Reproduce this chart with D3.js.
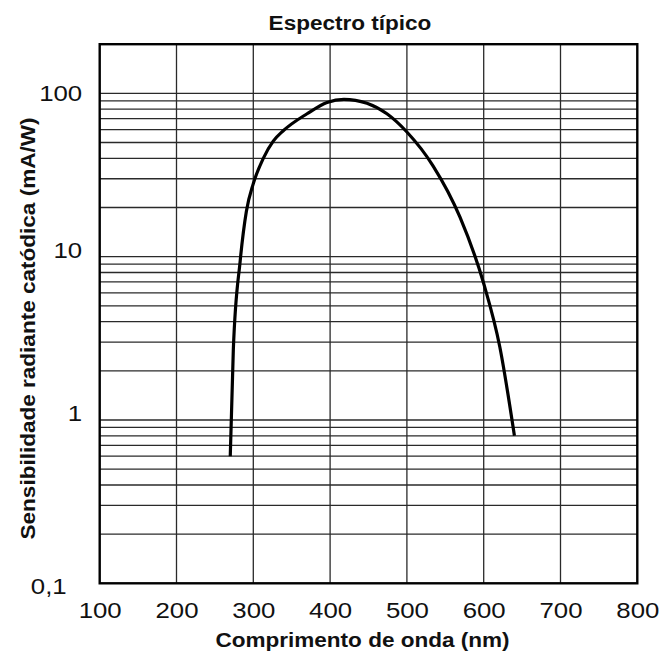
<!DOCTYPE html>
<html>
<head>
<meta charset="utf-8">
<script src="https://cdn.jsdelivr.net/npm/d3@7"></script>
<style>
  html, body { margin: 0; padding: 0; background: #fff; }
  svg { display: block; }
  text { font-family: "Liberation Sans", Arial, sans-serif; fill: #111; }
</style>
</head>
<body>
<svg id="chart" width="662" height="654"></svg>
<script>
// ---- data ----
const wavelength  = [270, 274, 283, 291, 300, 313, 326, 339, 370, 396, 418, 448, 474, 500, 534, 569, 600, 621, 640];
const sensitivity = [0.6, 2.7, 9.5, 19, 28, 40, 51, 59, 75, 88, 92, 87, 75, 58, 36, 17.5, 6.85, 2.8, 0.8];
const xTicks = [100, 200, 300, 400, 500, 600, 700, 800];
const yTicks = [0.1, 1, 10, 100];
const yTickLabels = ["0,1", "1", "10", "100"];
const chartTitle = "Espectro típico";
const xTitle = "Comprimento de onda (nm)";
const yTitle = "Sensibilidade radiante catódica (mA/W)";

// ---- layout ----
const mLeft = 99.7, mRight = 637.3, mTop = 44.2, mBottom = 583.3;

const svg = d3.select("#chart");
const x = d3.scaleLinear().domain([100, 800]).range([mLeft, mRight]);
const y = d3.scaleLog().domain([0.1, 200]).range([mBottom, mTop]);

// grid lines
const minor = [];
[0.1, 1, 10].forEach(d => { for (let k = 1; k <= 9; k++) minor.push(d * k); });
minor.push(100);
const gridY = minor.filter(v => v > 0.1);

svg.append("g").selectAll("line").data(gridY).join("line")
  .attr("x1", mLeft).attr("x2", mRight)
  .attr("y1", d => y(d)).attr("y2", d => y(d))
  .attr("stroke", "#2a2a2a").attr("stroke-width", 1.3);

svg.append("g").selectAll("line").data(xTicks.slice(1, -1)).join("line")
  .attr("x1", d => x(d)).attr("x2", d => x(d))
  .attr("y1", mTop).attr("y2", mBottom)
  .attr("stroke", "#2a2a2a").attr("stroke-width", 1.3);

// frame
svg.append("rect")
  .attr("x", mLeft).attr("y", mTop)
  .attr("width", mRight - mLeft).attr("height", mBottom - mTop)
  .attr("fill", "none").attr("stroke", "#000").attr("stroke-width", 2.4);

// axes
const xAxis = svg.append("g").attr("transform", `translate(0,${mBottom})`)
  .call(d3.axisBottom(x).tickValues(xTicks).tickSize(0).tickFormat(d3.format("d")));
xAxis.select(".domain").remove();
xAxis.selectAll("text")
  .attr("y", 0).attr("dy", 0)
  .attr("transform", "translate(0,34.7) scale(1.2,1)")
  .style("font-size", "21.5px")
  .style("font-family", "'Liberation Sans', Arial, sans-serif")
  .attr("fill", "#111");

const yAxis = svg.append("g").attr("transform", `translate(${mLeft},0)`)
  .call(d3.axisLeft(y).tickValues(yTicks).tickSize(0)
    .tickFormat((d, i) => yTickLabels[i]));
yAxis.select(".domain").remove();
yAxis.selectAll("text")
  .attr("x", 0).attr("dy", "0.35em")
  .attr("text-anchor", "end")
  .attr("transform", (d, i) => `translate(${i === 0 ? -33 : -17.5},${i === 0 ? 3 : (i === 3 ? 0 : -7)}) scale(1.2,1)`)
  .style("font-size", "21.5px")
  .style("font-family", "'Liberation Sans', Arial, sans-serif")
  .attr("fill", "#111");

// curve
const line = d3.line()
  .x((d, i) => x(wavelength[i]))
  .y((d, i) => y(sensitivity[i]))
  .curve(d3.curveMonotoneX);

svg.append("path")
  .datum(sensitivity)
  .attr("d", line)
  .attr("fill", "none")
  .attr("stroke", "#000")
  .attr("stroke-width", 3.2)
  .attr("stroke-linecap", "butt");

// titles
svg.append("text")
  .attr("text-anchor", "middle")
  .attr("transform", "translate(350,30) scale(1.1,1)")
  .style("font-size", "20.5px").style("font-weight", "bold")
  .text(chartTitle);

svg.append("text")
  .attr("text-anchor", "middle")
  .attr("transform", "translate(362.5,646.5) scale(1.1,1)")
  .style("font-size", "20.5px").style("font-weight", "bold")
  .text(xTitle);

svg.append("text")
  .attr("text-anchor", "middle")
  .attr("transform", "translate(34.5,328.5) rotate(-90) scale(1.1,1)")
  .style("font-size", "20.5px").style("font-weight", "bold")
  .text(yTitle);
</script>
</body>
</html>
